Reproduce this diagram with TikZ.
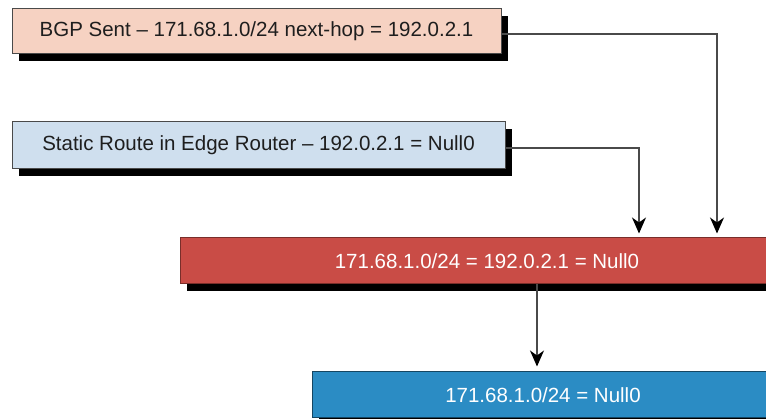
\documentclass[tikz,border=0pt]{standalone}
\usepackage{fontspec}
\setmainfont{Liberation Sans}
\usetikzlibrary{arrows.meta,shadows}
\definecolor{peach}{HTML}{F6D2C2}
\definecolor{paleblue}{HTML}{CFDFEE}
\definecolor{routered}{HTML}{C94C46}
\definecolor{nullblue}{HTML}{2B8CC4}
\definecolor{edge}{HTML}{4A4A4A}
\definecolor{inktext}{HTML}{1E1E1E}
\tikzset{
  x=1pt, y=-1pt,
  routebox/.style={draw=edge, line width=1pt, inner sep=0pt, anchor=center,
    font=\fontsize{20.5}{24}\selectfont,
    drop shadow={shadow xshift=7pt, shadow yshift=-7pt, fill=black, opacity=1}},
  conn/.style={draw=edge, line width=1.2pt,
    -{Stealth[length=16pt, width=14pt, inset=5pt, fill=black, color=black]}}
}
\begin{document}
\begin{tikzpicture}
  \clip (0,0) rectangle (766,419);
  \fill[white] (0,0) rectangle (766,419);

  % source boxes
  \node[routebox, fill=peach, text=inktext, minimum width=489pt, minimum height=45pt]
    (bgp) at (256.5,31.5) {BGP Sent – 171.68.1.0/24 next-hop = 192.0.2.1};
  \node[routebox, fill=paleblue, text=inktext, minimum width=493pt, minimum height=47pt]
    (static) at (258.5,145.5) {Static Route in Edge Router – 192.0.2.1 = Null0};

  % resulting routes
  \node[routebox, fill=routered, draw=routered!60!black, text=white,
    minimum width=614pt, minimum height=46pt]
    (combined) at (487,261) {171.68.1.0/24 = 192.0.2.1 = Null0};
  \node[routebox, fill=nullblue, draw=nullblue!50!black, text=white,
    minimum width=462pt, minimum height=46pt]
    (final) at (543,395) {171.68.1.0/24 = Null0};

  % turning points of the feeds into the combined route
  \coordinate (bgpturn) at ([xshift=230pt]combined.north);
  \coordinate (staticturn) at ([xshift=152pt]combined.north);
  \coordinate (downstart) at ([xshift=50pt]combined.south);

  \draw[conn, shorten >=4pt] ([yshift=-2.5pt]bgp.east) -| (bgpturn);
  \draw[conn, shorten >=4pt] ([yshift=-2.5pt]static.east) -| (staticturn);
  \draw[conn, shorten >=5pt] (downstart) -- (downstart |- final.north);
\end{tikzpicture}
\end{document}
